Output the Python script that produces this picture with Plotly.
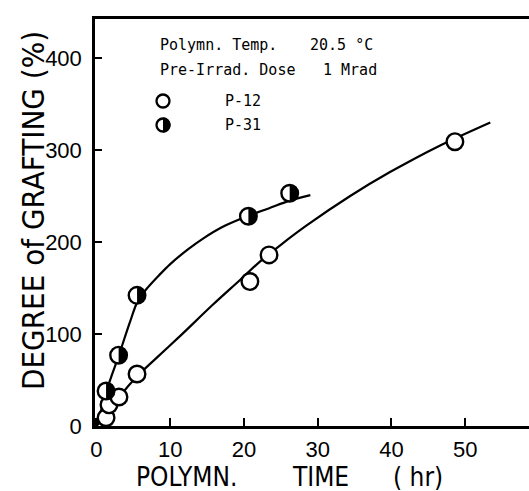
import numpy as np
import plotly.graph_objects as go

# ---- data ----
p12_time = [1.3, 1.7, 3.05, 5.5, 20.8, 23.4, 48.6]
p12_graft = [9, 23, 31.5, 56.5, 157, 186, 309]
p31_time = [1.3, 3.0, 5.5, 20.6, 26.2]
p31_graft = [38, 77, 142, 228, 253]

p12_curve_time = [0, 1.3, 3.05, 5.5, 8.0, 11.1, 15.8, 19.5, 22.2, 25.0, 28.5, 34.4, 39.8, 46.6, 53.4]
p12_curve_graft = [0, 11, 31, 54, 73, 96, 132, 159, 179, 197, 218, 250, 276, 305, 330]
p31_curve_time = [0, 0.7, 1.3, 2.2, 3.0, 4.5, 5.6, 7.0, 8.5, 10.0, 12.4, 14.5, 17.0, 19.5, 23.5, 26.2, 29.0]
p31_curve_graft = [0, 19, 37, 58, 76, 112, 136, 151, 164, 176, 192, 204, 216, 225, 237, 245, 251]

x_ticks = [0, 10, 20, 30, 40, 50]
y_ticks = [0, 100, 200, 300, 400]

info_lines = [("Polymn. Temp.", "20.5 °C"), ("Pre-Irrad. Dose", "1 Mrad")]
series_names = ["P-12", "P-31"]
x_title_words = ["POLYMN.", "TIME", "(\u00a0hr)"]
y_title = "DEGREE of GRAFTING (%)"

# ---- layout constants ----
W, H = 529, 491
ML, MR, MT, MB = 95, 0, 19, 65
PW, PH = W - ML - MR, H - MT - MB
R = 8.3    # data marker radius in px
RL = 6.5   # legend marker radius in px


def px2paper(px, py):
    return (px - ML) / PW, (H - MB - py) / PH


def half_disk(r):
    t = np.linspace(-np.pi / 2, np.pi / 2, 25)
    return "M " + " L ".join(f"{r * np.cos(a):.2f},{r * np.sin(a):.2f}" for a in t) + " Z"


fig = go.Figure()

curve_line = dict(color="black", width=2.2, shape="spline", smoothing=0.8)
fig.add_trace(go.Scatter(x=p12_curve_time, y=p12_curve_graft, mode="lines", line=curve_line,
                         showlegend=False, hoverinfo="skip"))
fig.add_trace(go.Scatter(x=p31_curve_time, y=p31_curve_graft, mode="lines", line=curve_line,
                         showlegend=False, hoverinfo="skip"))

marker = dict(symbol="circle", size=2 * R, color="white", line=dict(color="black", width=2.4))
fig.add_trace(go.Scatter(x=p12_time, y=p12_graft, mode="markers", marker=marker,
                         name=series_names[0], showlegend=False))
fig.add_trace(go.Scatter(x=p31_time, y=p31_graft, mode="markers", marker=marker,
                         name=series_names[1], showlegend=False))

# right-half fill for P-31 markers (pixel-sized shapes anchored at the data points)
shapes = []
for xv, yv in zip(p31_time, p31_graft):
    shapes.append(dict(type="path", xref="x", yref="y", xsizemode="pixel", ysizemode="pixel",
                       xanchor=xv, yanchor=yv, path=half_disk(R), fillcolor="black",
                       line=dict(width=0), layer="above"))

# legend markers inside the plot
leg_px = 163
leg_py = [101, 125]
for i, py in enumerate(leg_py):
    ax, ay = px2paper(leg_px, py)
    shapes.append(dict(type="circle", xref="paper", yref="paper", xsizemode="pixel", ysizemode="pixel",
                       xanchor=ax, yanchor=ay, x0=-RL, x1=RL, y0=-RL, y1=RL,
                       fillcolor="white", line=dict(color="black", width=2.3), layer="above"))
    if i == 1:
        shapes.append(dict(type="path", xref="paper", yref="paper", xsizemode="pixel", ysizemode="pixel",
                           xanchor=ax, yanchor=ay, path=half_disk(RL + 1), fillcolor="black",
                           line=dict(width=0), layer="above"))

mono = dict(family="DejaVu Sans Mono", size=15, color="black")
annotations = []
info_px = [(158, 308), (158, 321)]
info_py = [45, 70]
for (a, b), (xa, xb), py in zip(info_lines, info_px, info_py):
    for txt, px in ((a, xa), (b, xb)):
        ax, ay = px2paper(px, py)
        annotations.append(dict(text=txt, x=ax, y=ay, xref="paper", yref="paper",
                                xanchor="left", yanchor="middle", showarrow=False, font=mono))
for name, py in zip(series_names, leg_py):
    ax, ay = px2paper(223, py)
    annotations.append(dict(text=name, x=ax, y=ay, xref="paper", yref="paper",
                            xanchor="left", yanchor="middle", showarrow=False, font=mono))

sans = "Liberation Sans Narrow, DejaVu Sans Condensed, Liberation Sans, Arial"
# x-axis title words
for word, cx in zip(x_title_words, [186, 320, 418]):
    ax, ay = px2paper(cx, 477)
    annotations.append(dict(text=word, x=ax, y=ay, xref="paper", yref="paper",
                            xanchor="center", yanchor="middle", showarrow=False,
                            font=dict(family=sans, size=26, color="black")))
# y-axis title (rotated)
ax, ay = px2paper(33, 211)
annotations.append(dict(text=y_title, x=ax, y=ay, xref="paper", yref="paper", textangle=-90,
                        xanchor="center", yanchor="middle", showarrow=False,
                        font=dict(family=sans, size=31, color="black")))

fig.update_layout(
    width=W, height=H,
    margin=dict(l=ML, r=MR, t=MT, b=MB),
    paper_bgcolor="white", plot_bgcolor="white",
    shapes=shapes, annotations=annotations,
    xaxis=dict(range=[-0.2, -0.2 + PW / 7.375], tickvals=x_ticks, ticks="inside", ticklen=8,
               tickwidth=2, tickcolor="black", showline=True, linecolor="black", linewidth=2.5,
               mirror=True, showgrid=False, zeroline=False,
               tickfont=dict(family="Liberation Sans, Arial", size=22, color="black"),
               ticklabelstandoff=2),
    yaxis=dict(range=[0, PH / 0.92], tickvals=y_ticks, ticks="inside", ticklen=7,
               tickwidth=2, tickcolor="black", showline=True, linecolor="black", linewidth=2.5,
               mirror=False, showgrid=False, zeroline=False,
               tickfont=dict(family="Liberation Sans, Arial", size=22, color="black"),
               ticklabelstandoff=6),
)

fig.write_html("out.html")
